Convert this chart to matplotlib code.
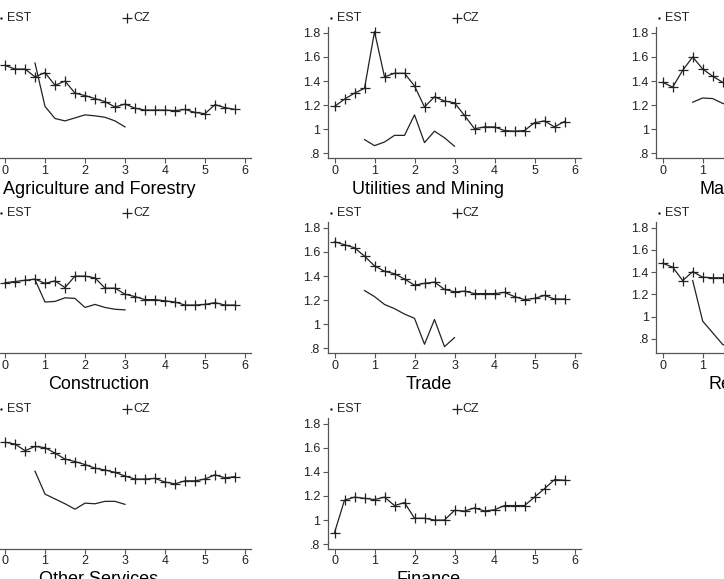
import matplotlib
matplotlib.use('Agg')
import matplotlib.pyplot as plt
import matplotlib.transforms as mtransforms

plt.rcParams['font.family'] = ['Liberation Sans', 'DejaVu Sans']

years_cz = [0, 0.25, 0.5, 0.75, 1, 1.25, 1.5, 1.75, 2, 2.25, 2.5, 2.75,
            3, 3.25, 3.5, 3.75, 4, 4.25, 4.5, 4.75, 5, 5.25, 5.5, 5.75]
years_est = [0.75, 1, 1.25, 1.5, 1.75, 2, 2.25, 2.5, 2.75, 3]

titles = ['Agriculture and Forestry', 'Utilities and Mining', 'Manufacturing',
          'Construction', 'Trade', 'Restaurants',
          'Other Services', 'Finance']

agri_cz = [1.53, 1.50, 1.50, 1.435, 1.47, 1.365, 1.40, 1.30, 1.28, 1.255, 1.23, 1.185,
           1.21, 1.175, 1.16, 1.16, 1.16, 1.155, 1.165, 1.14, 1.13, 1.205, 1.18, 1.165]
agri_est = [1.55, 1.19, 1.09, 1.07, 1.095, 1.12, 1.112, 1.10, 1.07, 1.02]

util_cz = [1.19, 1.25, 1.30, 1.34, 1.81, 1.435, 1.465, 1.465, 1.36, 1.185, 1.27, 1.235,
           1.22, 1.115, 1.005, 1.02, 1.02, 0.99, 0.985, 0.99, 1.055, 1.07, 1.02, 1.065]
util_est = [0.915, 0.865, 0.895, 0.95, 0.95, 1.12, 0.89, 0.985, 0.93, 0.86]

manu_cz = [1.39, 1.35, 1.49, 1.60, 1.50, 1.44, 1.39, 1.36]
manu_est = [1.225, 1.26, 1.255, 1.215, 1.19]

cons_cz = [1.345, 1.355, 1.365, 1.375, 1.34, 1.36, 1.305, 1.40, 1.40, 1.385, 1.30, 1.30,
           1.25, 1.23, 1.205, 1.205, 1.195, 1.185, 1.16, 1.16, 1.165, 1.18, 1.16, 1.16]
cons_est = [1.37, 1.185, 1.19, 1.22, 1.215, 1.14, 1.165, 1.14, 1.125, 1.12]

trade_cz = [1.685, 1.66, 1.635, 1.565, 1.485, 1.44, 1.42, 1.375, 1.325, 1.34, 1.35, 1.29,
            1.27, 1.275, 1.255, 1.255, 1.255, 1.265, 1.23, 1.205, 1.215, 1.24, 1.21, 1.21]
trade_est = [1.28, 1.23, 1.165, 1.13, 1.085, 1.05, 0.835, 1.04, 0.815, 0.89]

rest_cz = [1.48, 1.445, 1.325, 1.405, 1.355, 1.35, 1.35, 1.35]
rest_est = [1.325, 0.96, 0.855, 0.75, 0.72]

other_cz = [1.645, 1.63, 1.575, 1.61, 1.60, 1.555, 1.505, 1.485, 1.46, 1.43, 1.415, 1.395,
            1.365, 1.34, 1.34, 1.345, 1.315, 1.30, 1.325, 1.325, 1.34, 1.375, 1.35, 1.36]
other_est = [1.405, 1.215, 1.175, 1.135, 1.09, 1.14, 1.135, 1.155, 1.155, 1.13]

fin_cz = [0.895, 1.165, 1.19, 1.18, 1.17, 1.19, 1.12, 1.145, 1.015, 1.015, 1.0, 1.0,
          1.08, 1.075, 1.10, 1.075, 1.085, 1.12, 1.12, 1.12, 1.19, 1.26, 1.335, 1.33]

cz_series = [agri_cz, util_cz, manu_cz, cons_cz, trade_cz, rest_cz, other_cz, fin_cz]
est_series = [agri_est, util_est, manu_est, cons_est, trade_est, rest_est, other_est, None]

yticks = [0.8, 1, 1.2, 1.4, 1.6, 1.8]
ytick_labels = ['.8', '1', '1.2', '1.4', '1.6', '1.8']

W, H = 724, 579
fig = plt.figure(figsize=(W / 100, H / 100), dpi=100)

col_x0 = [5, 334.5, 662.7]      # pixel of x = 0
row_base = [158.3, 353.3, 549]  # pixel of x-axis line
px_per_unit = 40.0
ax_h = 131.5
ink = '#222222'

for i, title in enumerate(titles):
    r, c = divmod(i, 3)
    left = col_x0[c] - 0.16 * px_per_unit
    width = 6.31 * px_per_unit
    bottom = row_base[r]
    ax = fig.add_axes([left / W, 1 - bottom / H, width / W, ax_h / H])
    cz = cz_series[i]
    ax.plot(years_cz[:len(cz)], cz, color=ink, lw=0.9, marker='+',
            markersize=7.5, markeredgewidth=0.9)
    est = est_series[i]
    if est is not None:
        ax.plot(years_est[:len(est)], est, color=ink, lw=0.9)
    ax.set_xlim(-0.16, 6.15)
    if title == 'Restaurants':
        ax.set_ylim(0.671, 1.853)
    else:
        ax.set_ylim(0.76, 1.85)
    ax.set_xticks(range(7))
    ax.set_yticks(yticks)
    ax.set_yticklabels(ytick_labels)
    for s in ['top', 'right']:
        ax.spines[s].set_visible(False)
    for s in ['left', 'bottom']:
        ax.spines[s].set_color('#555555')
        ax.spines[s].set_linewidth(0.9)
    ax.tick_params(axis='both', labelsize=9, length=3.5, width=0.8,
                   color='#555555', labelcolor=ink)
    ax.tick_params(axis='x', pad=1.0)
    ax.tick_params(axis='y', pad=2.0)
    if c == 0:
        # y axis of the left column lies outside the picture
        ax.tick_params(axis='y', labelleft=False, left=False)
    ax.patch.set_visible(False)

    # legend row above each panel
    trans = mtransforms.blended_transform_factory(ax.transData, ax.transAxes)
    ly = 1 + 8.5 / ax_h
    ax.plot([-0.09], [ly], marker='.', markersize=1.5, color=ink,
            transform=trans, clip_on=False)
    ax.text(0.06, ly, 'EST', fontsize=9, color=ink, va='center', ha='left',
            transform=trans)
    ax.plot([3.05], [ly], marker='+', markersize=7.5, markeredgewidth=0.9,
            color=ink, transform=trans, clip_on=False)
    ax.text(3.2, ly, 'CZ', fontsize=9, color=ink, va='center', ha='left',
            transform=trans)

    # panel title below
    ax.text(2.35, -31 / ax_h, title, fontsize=13, color='black',
            ha='center', va='center', transform=trans)

fig.savefig('out.png', dpi=100)
